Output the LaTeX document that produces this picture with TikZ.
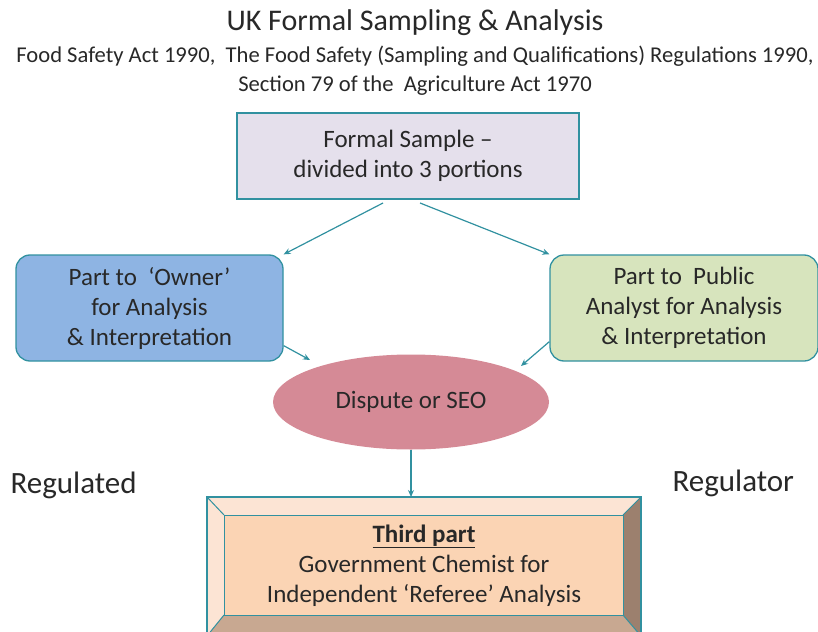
\documentclass[tikz,border=0pt]{standalone}
\usepackage{fontspec}
\setmainfont{Carlito}
\usetikzlibrary{shapes.geometric,arrows.meta}
\definecolor{teal1}{RGB}{49,145,160}
\definecolor{lav}{RGB}{229,224,236}
\definecolor{blu}{RGB}{142,180,227}
\definecolor{grn}{RGB}{215,228,189}
\definecolor{pnk}{RGB}{213,138,150}
\definecolor{peach}{RGB}{251,212,180}
\definecolor{peachL}{RGB}{252,228,212}
\definecolor{peachD}{RGB}{156,128,110}
\definecolor{peachM}{RGB}{200,168,145}
\definecolor{txt}{RGB}{40,40,40}
\tikzset{
  box/.style={draw=teal1, line width=1.3pt, align=center, text=txt, font=\fontsize{25}{30}\selectfont},
  conn/.style={draw=teal1, line width=1.2pt, -{Stealth[length=7pt,width=6pt]}},
  side/.style={text=txt, font=\fontsize{31}{34}\selectfont}
}
\begin{document}
\begin{tikzpicture}[x=1pt,y=-1pt]
\useasboundingbox (0,0) rectangle (818,631);
\clip (0,0) rectangle (818,631);
\node[text=txt, font=\fontsize{30}{32}\selectfont] (title) at (415,23) {UK Formal Sampling \& Analysis};
\node[text=txt, font=\fontsize{22.6}{29}\selectfont, align=center] (sub) at (415,71) {Food Safety Act 1990,\ \ The Food Safety (Sampling and Qualifications) Regulations 1990,\\Section 79 of the\ \ Agriculture Act 1970};
\node[box, fill=lav, minimum width=342pt, minimum height=86pt] (fs) at (408,156) {Formal Sample \textendash\\divided into 3 portions};
\node[box, fill=blu, rounded corners=14pt, minimum width=267pt, minimum height=106pt] (own) at (149.5,308) {Part to\ \ `Owner'\\for Analysis\\\& Interpretation};
\node[box, fill=grn, rounded corners=14pt, minimum width=268pt, minimum height=106pt] (pub) at (684,308) {Part to\ \ Public\\Analyst for Analysis\\\& Interpretation};
\node[ellipse, fill=pnk, minimum width=276pt, minimum height=95pt, text=txt, font=\fontsize{25}{28}\selectfont] (dis) at (411,402) {Dispute or SEO};
% bevel box
\coordinate (o1) at (207,497); \coordinate (o2) at (641,497); \coordinate (o3) at (641,636); \coordinate (o4) at (207,636);
\coordinate (i1) at (224,515); \coordinate (i2) at (623,515); \coordinate (i3) at (623,615); \coordinate (i4) at (224,615);
\fill[peachL] (o1) -- (o2) -- (i2) -- (i1) -- cycle;
\fill[peachL] (o1) -- (i1) -- (i4) -- (o4) -- cycle;
\fill[peachD] (o2) -- (o3) -- (i3) -- (i2) -- cycle;
\fill[peachM] (o4) -- (i4) -- (i3) -- (o3) -- cycle;
\node[box, fill=peach, line width=1pt, minimum width=399pt, minimum height=100pt, anchor=north west] (gc) at (i1) {\underline{\textbf{Third part}}\\Government Chemist for\\Independent `Referee' Analysis};
\draw[teal1, line width=1.3pt] (o1) rectangle (o3);
\draw[teal1, line width=1pt] (o1) -- (i1) (o2) -- (i2) (o3) -- (i3) (o4) -- (i4);
% connectors
\coordinate (a1) at (383,203); \coordinate (a2) at (420,203);
\draw[conn] (a1) -- (own.north east);
\draw[conn] (a2) -- (pub.north west);
\draw[conn] (own.south east) ++(0,-16) coordinate (b1) (b1) -- (310,360);
\draw[conn] (pub.south west) ++(0,-20) coordinate (b2) (b2) -- (521,366);
\draw[conn] (dis.south) -- (dis.south |- o1);
\node[side, anchor=west] (reg1) at (7,485) {Regulated};
\node[side, anchor=west] (reg2) at (669,483) {Regulator};
\end{tikzpicture}
\end{document}
